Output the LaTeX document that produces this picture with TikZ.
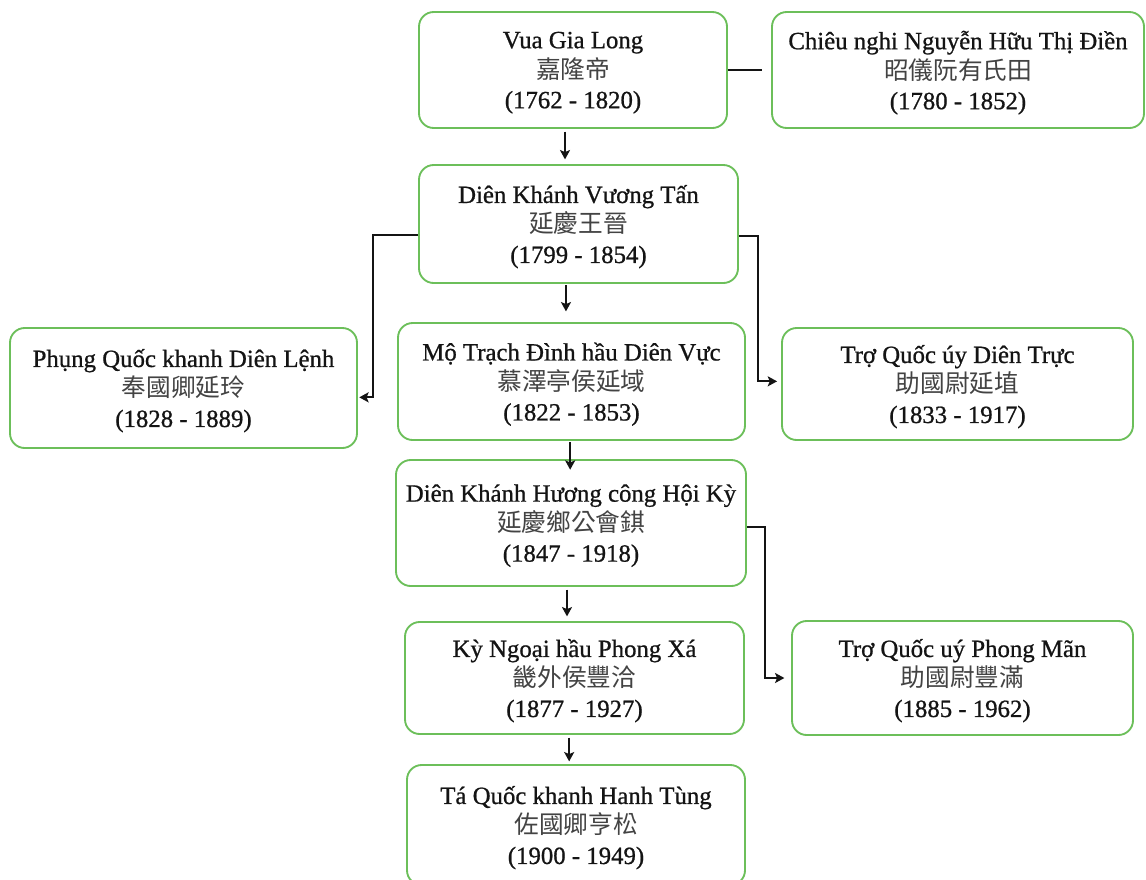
\documentclass[tikz,border=0pt]{standalone}
\usepackage{fontspec}
\setmainfont{Liberation Serif}[FakeBold=0.8]
\newfontfamily\cjk{Noto Sans CJK TC}
\usepackage{tikz}
\usetikzlibrary{arrows.meta,positioning,calc}
\definecolor{leaf}{HTML}{6CBF5A}
\definecolor{ink}{HTML}{141414}
\newcommand{\hanzi}[1]{{\cjk\color{ink!80}\fontsize{18.5}{22.5}\selectfont #1}}

\begin{document}
\begin{tikzpicture}[x=0.75pt,y=-0.75pt,
  person/.style={draw=leaf,line width=1.4pt,rounded corners=11pt,fill=white,align=center,
    inner sep=0pt,text depth=0pt,text=ink,font=\fontsize{18.6}{22.5}\selectfont},
  link/.style={ink,line width=1.4pt},
  down/.style={link,-{Stealth[length=7pt,width=7.5pt,inset=1.5pt]}}]
  \useasboundingbox (0,0) rectangle (1146,879);
  % king and consort
  \node[person,minimum width=231pt,minimum height=87pt] (gialong) at (573,70)
    {Vua Gia Long\\\hanzi{嘉隆帝}\\(1762 - 1820)};
  \node[person,minimum width=279pt,minimum height=87pt] (chieunghi) at (958,70)
    {Chiêu nghi Nguyễn Hữu Thị Điền\\\hanzi{昭儀阮有氏田}\\(1780 - 1852)};
  % son
  \node[person,minimum width=239.25pt,minimum height=88.5pt] (dienkhanh) at (578.5,224)
    {Diên Khánh Vương Tấn\\\hanzi{延慶王晉}\\(1799 - 1854)};
  % grandsons
  \node[person,minimum width=260.25pt,minimum height=90pt] (phung) at (183.5,388)
    {Phụng Quốc khanh Diên Lệnh\\\hanzi{奉國卿延玲}\\(1828 - 1889)};
  \node[person,minimum width=260.25pt,minimum height=87.75pt] (motrach) at (571.5,381.5)
    {Mộ Trạch Đình hầu Diên Vực\\\hanzi{慕澤亭侯延域}\\(1822 - 1853)};
  \node[person,minimum width=263.25pt,minimum height=84pt] (dientruc) at (957.5,384)
    {Trợ Quốc úy Diên Trực\\\hanzi{助國尉延埴}\\(1833 - 1917)};
  \node[person,minimum width=262.5pt,minimum height=94.5pt] (hoiky) at (571,523)
    {Diên Khánh Hương công Hội Kỳ\\\hanzi{延慶鄉公會錤}\\(1847 - 1918)};
  % later lines
  \node[person,minimum width=254.25pt,minimum height=84pt] (kyngoai) at (574.5,678)
    {Kỳ Ngoại hầu Phong Xá\\\hanzi{畿外侯豐洽}\\(1877 - 1927)};
  \node[person,minimum width=255.75pt,minimum height=85.5pt] (phongman) at (962.5,678)
    {Trợ Quốc uý Phong Mãn\\\hanzi{助國尉豐滿}\\(1885 - 1962)};
  \node[person,minimum width=253.5pt,minimum height=90pt] (taquoc) at (576,825)
    {Tá Quốc khanh Hanh Tùng\\\hanzi{佐國卿亨松}\\(1900 - 1949)};
  % links
  \draw[link,shorten >=7pt] (gialong.east) -- (chieunghi.west);
  \draw[down,shorten <=2pt,shorten >=3.5pt] ([xshift=-6pt]gialong.south) -- ([xshift=-6pt]gialong.south |- dienkhanh.north);
  \draw[down,shorten <=1pt,shorten >=8pt] ([xshift=-9.4pt]dienkhanh.south) -- ([xshift=-9.4pt]dienkhanh.south |- motrach.north);
  \draw[down,shorten <=1pt,shorten >=-8pt] ([xshift=-1pt]motrach.south) -- ([xshift=-1pt]motrach.south |- hoiky.north);
  \draw[down,shorten <=2pt,shorten >=3.5pt] ([xshift=-3pt]hoiky.south) -- ([xshift=-3pt]hoiky.south |- kyngoai.north);
  \draw[down,shorten <=2pt,shorten >=2pt] ([xshift=-4pt]kyngoai.south) -- ([xshift=-4pt]kyngoai.south |- taquoc.north);
  \draw[down,shorten >=1pt] ([yshift=-8pt]dienkhanh.west) -- ++(-45,0) |- ([yshift=-7pt]phung.east);
  \draw[down,shorten >=3pt] ([yshift=-9pt]dienkhanh.east) -- ++(19,0) |- ([yshift=2pt]dientruc.west);
  \draw[down,shorten >=5pt] ([yshift=-3pt]hoiky.east) -- ++(18,0) |- (phongman.west);
\end{tikzpicture}
\end{document}
